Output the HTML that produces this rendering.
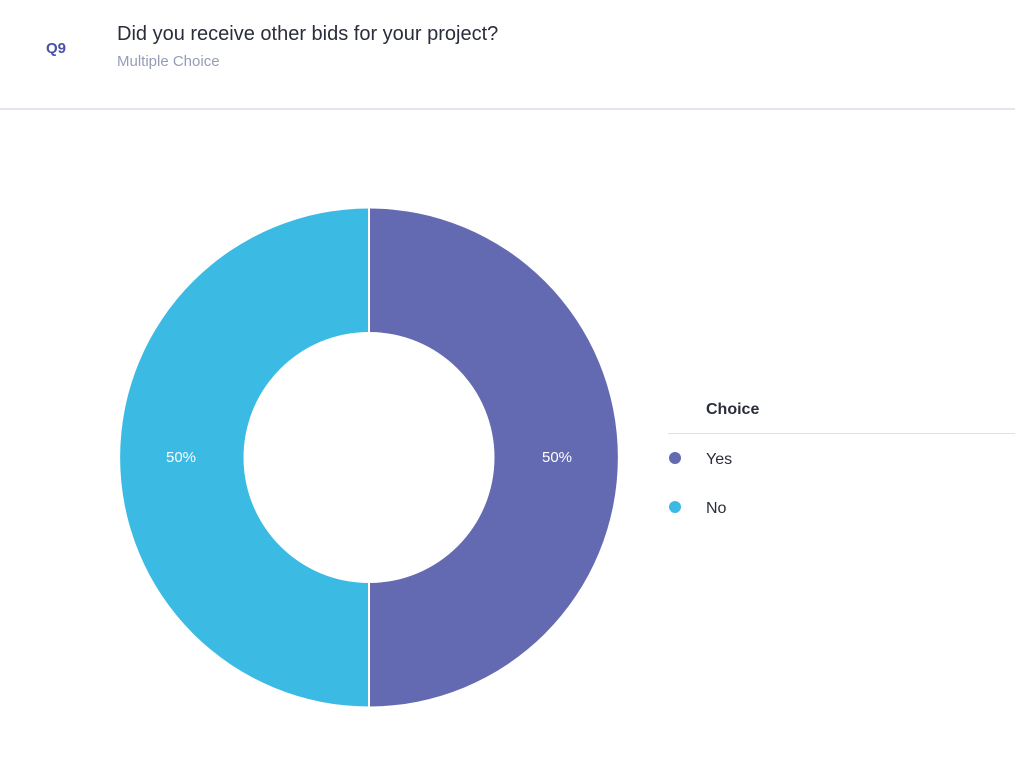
<!DOCTYPE html>
<html><head><meta charset="utf-8"><style>
html,body{margin:0;padding:0;background:#fff;width:1015px;height:768px;overflow:hidden;font-family:"Liberation Sans",sans-serif}
.t{position:absolute;white-space:nowrap}
</style></head><body>
<div class="t" style="left:46px;top:40px;font-size:15px;font-weight:bold;color:#4a51a8">Q9</div>
<div class="t" style="left:117px;top:23px;font-size:20px;color:#2a2e3a">Did you receive other bids for your project?</div>
<div class="t" style="left:117px;top:53px;font-size:15px;color:#969cb8">Multiple Choice</div>
<div style="position:absolute;left:0;top:108px;width:1015px;height:2px;background:#e4e5ee"></div>
<svg width="1015" height="768" style="position:absolute;left:0;top:0">
<path d="M369,208.5 A249,249 0 0 1 369,706.5 L369,583 A125.5,125.5 0 0 0 369,332 Z" fill="#646ab1"/>
<path d="M369,208.5 A249,249 0 0 0 369,706.5 L369,583 A125.5,125.5 0 0 1 369,332 Z" fill="#3bbae3"/>
<line x1="369" y1="208" x2="369" y2="332" stroke="#fff" stroke-width="2"/>
<line x1="369" y1="583" x2="369" y2="707" stroke="#fff" stroke-width="2"/>
<text x="557" y="462" fill="#fff" font-size="15" text-anchor="middle" font-family="Liberation Sans">50%</text>
<text x="181" y="462" fill="#fff" font-size="15" text-anchor="middle" font-family="Liberation Sans">50%</text>
<line x1="668" y1="433.5" x2="1015" y2="433.5" stroke="#e0e1e8" stroke-width="1"/>
<circle cx="675" cy="458" r="6" fill="#646ab1"/>
<circle cx="675" cy="507" r="6" fill="#3bbae3"/>
<text x="706" y="414" fill="#2a2e3a" font-size="16" font-weight="bold" font-family="Liberation Sans">Choice</text>
<text x="706" y="464" fill="#2a2e3a" font-size="16" font-family="Liberation Sans">Yes</text>
<text x="706" y="513" fill="#2a2e3a" font-size="16" font-family="Liberation Sans">No</text>
</svg>
</body></html>
